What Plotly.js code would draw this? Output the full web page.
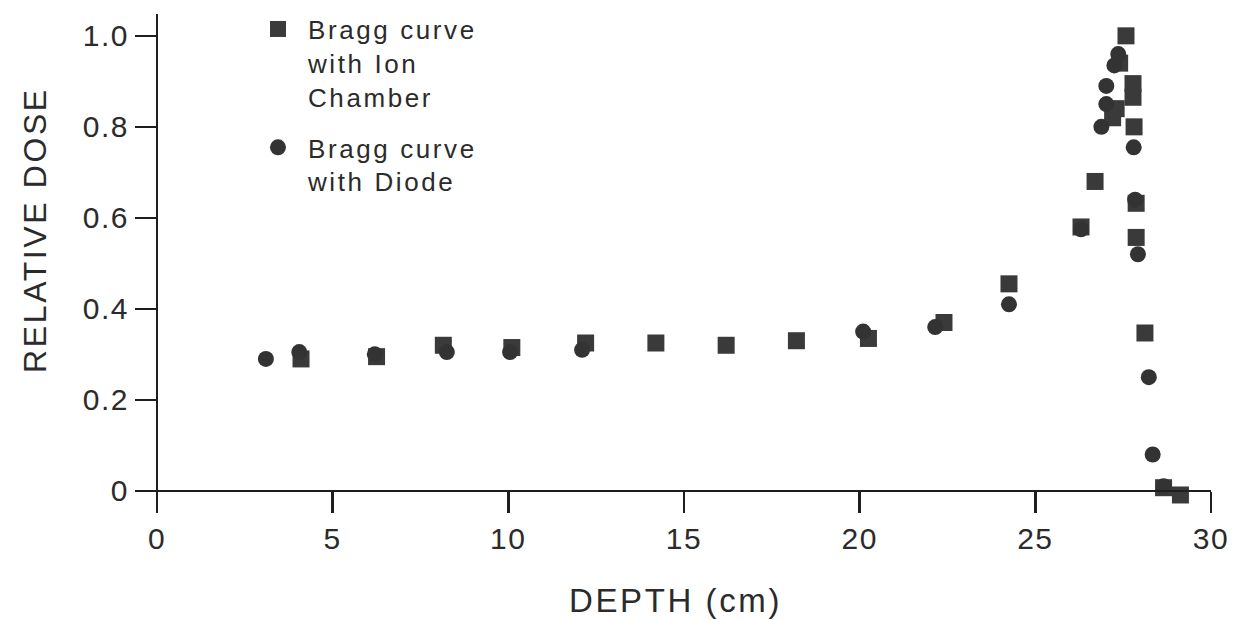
<!DOCTYPE html>
<html>
<head>
<meta charset="utf-8">
<script src="https://cdn.plot.ly/plotly-3.0.1.min.js"></script>
<style>
html,body{margin:0;padding:0;background:#fff;}
#chart{width:1234px;height:620px;}
#chart .legendtext{letter-spacing:2.6px;}
#chart .legend .scrollbox{clip-path:none !important;}
#chart .annotation-text{letter-spacing:2.6px;}
#chart .xtick text,#chart .ytick text{letter-spacing:1.5px;}
</style>
</head>
<body>
<div id="chart"></div>
<script>
// Bragg curve measured with ion chamber (squares)
const depthIon = [4.1, 6.25, 8.15, 10.1, 12.2, 14.2, 16.2, 18.2, 20.25, 22.4, 24.25, 26.3, 26.7, 27.2, 27.3, 27.4, 27.58, 27.78, 27.78, 27.81, 27.87, 27.87, 28.12, 28.65, 29.13];
const doseIon  = [0.29, 0.295, 0.32, 0.315, 0.325, 0.325, 0.32, 0.33, 0.335, 0.37, 0.455, 0.58, 0.68, 0.82, 0.84, 0.94, 1.0, 0.895, 0.865, 0.80, 0.632, 0.557, 0.347, 0.007, -0.009];
// Bragg curve measured with diode (circles)
const depthDiode = [3.1, 4.05, 6.2, 8.25, 10.05, 12.1, 20.1, 22.15, 24.25, 26.3, 26.88, 27.02, 27.02, 27.25, 27.36, 27.8, 27.84, 27.92, 28.23, 28.34, 28.65];
const doseDiode  = [0.29, 0.305, 0.30, 0.305, 0.305, 0.31, 0.35, 0.36, 0.41, 0.575, 0.80, 0.85, 0.89, 0.935, 0.96, 0.755, 0.64, 0.52, 0.25, 0.08, 0.01];

const xTicks = [0, 5, 10, 15, 20, 25, 30];
const yTicks = [0, 0.2, 0.4, 0.6, 0.8, 1.0];
const yTickText = ['0', '0.2', '0.4', '0.6', '0.8', '1.0'];
const nameIon = 'Bragg curve<br>with Ion<br>Chamber';
const nameDiode = 'Bragg curve<br>with Diode';
const xTitle = 'DEPTH (cm)';
const yTitle = 'RELATIVE DOSE';

const xRange = [-0.54, 30];
const yRange = [-0.042, 1.048];
const ink = '#2b2b2b';
const font = 'Liberation Sans, Arial, Helvetica, sans-serif';

const traces = [
  {x: depthIon, y: doseIon, type: 'scatter', mode: 'markers', name: nameIon,
   legendgroup: 'a', cliponaxis: false,
   marker: {symbol: 'square', size: 17, color: '#3a3a3a'}},
  {x: depthDiode, y: doseDiode, type: 'scatter', mode: 'markers', name: nameDiode,
   legendgroup: 'b', cliponaxis: false,
   marker: {symbol: 'circle', size: 16, color: '#333333'}}
];

const layout = {
  width: 1234, height: 620,
  margin: {l: 138, r: 23, t: 14, b: 110, autoexpand: false},
  paper_bgcolor: '#ffffff', plot_bgcolor: '#ffffff',
  font: {family: font, color: ink},
  showlegend: true,
  legend: {x: 0.1025, y: 1.017, xanchor: 'left', yanchor: 'top', bgcolor: 'rgba(0,0,0,0)',
           valign: 'top', traceorder: 'grouped', tracegroupgap: 14, itemwidth: 50,
           font: {family: font, size: 26, color: ink}},
  xaxis: {range: xRange, anchor: 'free',
          position: (0 - yRange[0]) / (yRange[1] - yRange[0]),
          showline: true, linecolor: '#1e1e1e', linewidth: 2.5,
          ticks: 'outside', ticklen: 21, tickwidth: 2.5, tickcolor: '#1e1e1e',
          tickvals: xTicks, showgrid: false, zeroline: false,
          tickfont: {size: 30, color: ink}, automargin: false},
  yaxis: {range: yRange, anchor: 'free',
          position: (0 - xRange[0]) / (xRange[1] - xRange[0]),
          showline: true, linecolor: '#1e1e1e', linewidth: 2.5,
          ticks: 'outside', ticklen: 21, tickwidth: 2.5, tickcolor: '#1e1e1e',
          tickvals: yTicks, ticktext: yTickText, showgrid: false, zeroline: false,
          tickfont: {size: 30, color: ink}, automargin: false},
  annotations: [
    {text: xTitle, xref: 'paper', yref: 'paper', x: 0.5005, y: -0.1815,
     xanchor: 'center', yanchor: 'middle', showarrow: false,
     font: {size: 33, color: ink}},
    {text: yTitle, xref: 'paper', yref: 'paper', x: -0.096, y: 0.5645,
     xanchor: 'center', yanchor: 'middle', showarrow: false, textangle: -90,
     font: {size: 32, color: ink}}
  ]
};

Plotly.newPlot('chart', traces, layout, {staticPlot: true, displayModeBar: false});
</script>
</body>
</html>
